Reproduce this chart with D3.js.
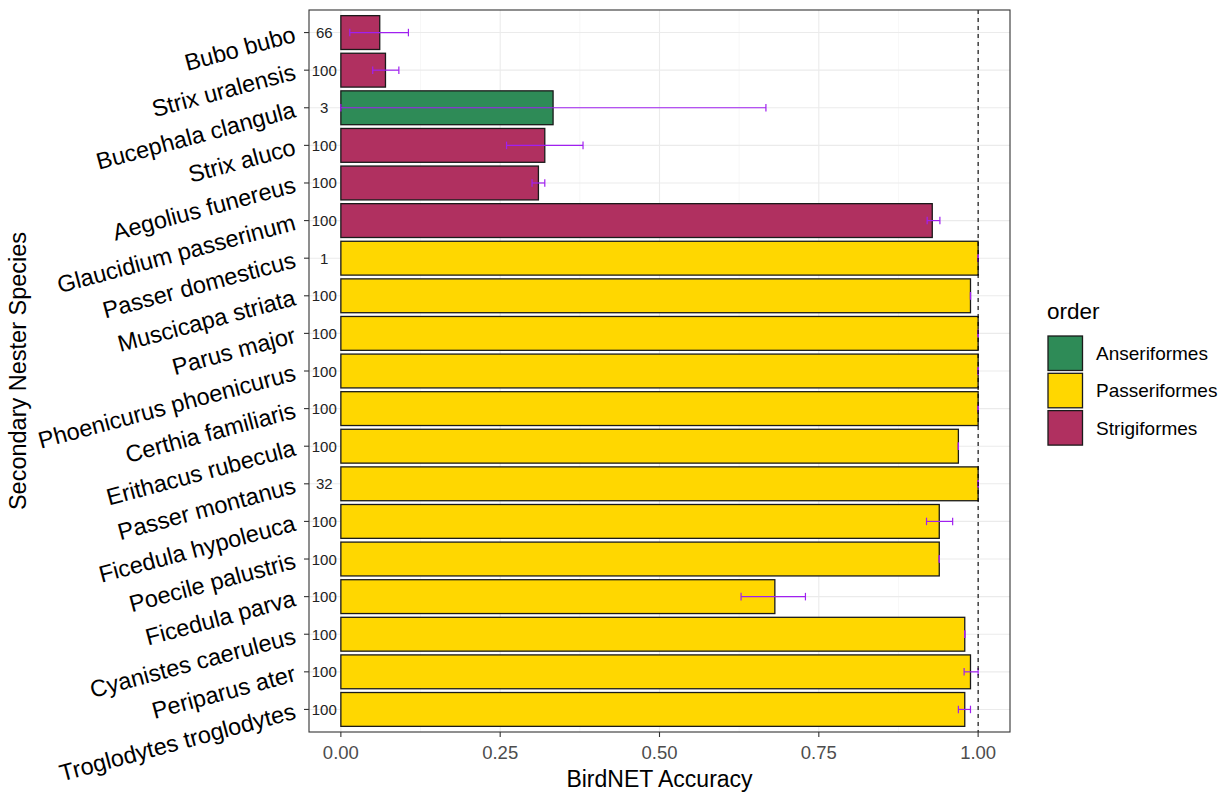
<!DOCTYPE html>
<html>
<head>
<meta charset="utf-8">
<script src="https://cdn.jsdelivr.net/npm/d3@7"></script>
<style>
  html, body { margin: 0; padding: 0; background: #fff; }
  svg { display: block; font-family: "Liberation Sans", Arial, sans-serif; }
</style>
</head>
<body>
<svg id="chart" width="1231" height="795"></svg>
<script>
// Species, top to bottom
const species = [
  "Bubo bubo", "Strix uralensis", "Bucephala clangula", "Strix aluco",
  "Aegolius funereus", "Glaucidium passerinum", "Passer domesticus",
  "Muscicapa striata", "Parus major", "Phoenicurus phoenicurus",
  "Certhia familiaris", "Erithacus rubecula", "Passer montanus",
  "Ficedula hypoleuca", "Poecile palustris", "Ficedula parva",
  "Cyanistes caeruleus", "Periparus ater", "Troglodytes troglodytes"
];
const orders = [
  "Strigiformes", "Strigiformes", "Anseriformes", "Strigiformes",
  "Strigiformes", "Strigiformes", "Passeriformes",
  "Passeriformes", "Passeriformes", "Passeriformes",
  "Passeriformes", "Passeriformes", "Passeriformes",
  "Passeriformes", "Passeriformes", "Passeriformes",
  "Passeriformes", "Passeriformes", "Passeriformes"
];
// Mean accuracy
const accuracy = [
  0.061, 0.070, 0.333, 0.320,
  0.310, 0.928, 1.000,
  0.988, 1.000, 1.000,
  1.000, 0.969, 1.000,
  0.939, 0.939, 0.681,
  0.979, 0.988, 0.979
];
// Error bar limits
const errLow = [
  0.014, 0.050, 0.000, 0.260,
  0.300, 0.920, 1.000,
  0.988, 1.000, 1.000,
  1.000, 0.969, 1.000,
  0.919, 0.939, 0.628,
  0.979, 0.978, 0.969
];
const errHigh = [
  0.106, 0.091, 0.667, 0.380,
  0.320, 0.940, 1.000,
  0.988, 1.000, 1.000,
  1.000, 0.969, 1.000,
  0.960, 0.939, 0.729,
  0.979, 1.000, 0.988
];
// Number of recordings per species
const counts = [
  66, 100, 3, 100,
  100, 100, 1,
  100, 100, 100,
  100, 100, 32,
  100, 100, 100,
  100, 100, 100
];
const orderNames = ["Anseriformes", "Passeriformes", "Strigiformes"];
const orderColors = ["#2E8B57", "#FFD700", "#B03060"];
const xTicks = [0, 0.25, 0.5, 0.75, 1];
const xMinor = [0.125, 0.375, 0.625, 0.875];

const data = species.map((s, i) => ({
  species: s, order: orders[i], acc: accuracy[i],
  lo: errLow[i], hi: errHigh[i], n: counts[i]
}));

const svg = d3.select("#chart");
const panel = { left: 309, right: 1010, top: 10, bottom: 732 };

const x = d3.scaleLinear().domain([-0.05, 1.05]).range([panel.left, panel.right]);
const y = d3.scaleBand().domain(species)
  .range([panel.top, panel.bottom]).paddingInner(0.1).paddingOuter(0.15);
const step = y.step();
const yc = s => y(s) + y.bandwidth() / 2;
const color = d3.scaleOrdinal().domain(orderNames).range(orderColors);

// grid
const g = svg.append("g");
g.selectAll(".minor").data(xMinor).join("line")
  .attr("x1", d => x(d)).attr("x2", d => x(d))
  .attr("y1", panel.top).attr("y2", panel.bottom)
  .attr("stroke", "#F2F2F2").attr("stroke-width", 0.6);
g.selectAll(".major").data(xTicks).join("line")
  .attr("x1", d => x(d)).attr("x2", d => x(d))
  .attr("y1", panel.top).attr("y2", panel.bottom)
  .attr("stroke", "#EBEBEB").attr("stroke-width", 1.1);
g.selectAll(".hgrid").data(species).join("line")
  .attr("x1", panel.left).attr("x2", panel.right)
  .attr("y1", d => yc(d)).attr("y2", d => yc(d))
  .attr("stroke", "#EBEBEB").attr("stroke-width", 1.1);

// bars
svg.append("g").selectAll("rect").data(data).join("rect")
  .attr("x", x(0))
  .attr("y", d => y(d.species))
  .attr("width", d => x(d.acc) - x(0))
  .attr("height", y.bandwidth())
  .attr("fill", d => color(d.order))
  .attr("stroke", "#1a1a1a").attr("stroke-width", 1.3);

// error bars
const capH = step * 0.2;
const eb = svg.append("g").attr("stroke", "#A020F0").attr("stroke-width", 1.2);
data.forEach(d => {
  const cy = yc(d.species);
  eb.append("line").attr("x1", x(d.lo)).attr("x2", x(d.hi)).attr("y1", cy).attr("y2", cy);
  eb.append("line").attr("x1", x(d.lo)).attr("x2", x(d.lo)).attr("y1", cy - capH / 2).attr("y2", cy + capH / 2);
  eb.append("line").attr("x1", x(d.hi)).attr("x2", x(d.hi)).attr("y1", cy - capH / 2).attr("y2", cy + capH / 2);
});

// reference line at perfect accuracy
svg.append("line")
  .attr("x1", x(1)).attr("x2", x(1))
  .attr("y1", panel.top).attr("y2", panel.bottom)
  .attr("stroke", "#000").attr("stroke-width", 1.1)
  .attr("stroke-dasharray", "4,4");

// sample counts
svg.append("g").selectAll("text").data(data).join("text")
  .attr("x", x(-0.026)).attr("y", d => yc(d.species))
  .attr("text-anchor", "middle").attr("dominant-baseline", "central")
  .attr("font-size", 15).attr("fill", "#222")
  .text(d => d.n);

// panel border
svg.append("rect")
  .attr("x", panel.left).attr("y", panel.top)
  .attr("width", panel.right - panel.left).attr("height", panel.bottom - panel.top)
  .attr("fill", "none").attr("stroke", "#333").attr("stroke-width", 1.1);

// x axis
const xa = svg.append("g");
xa.selectAll("line").data(xTicks).join("line")
  .attr("x1", d => x(d)).attr("x2", d => x(d))
  .attr("y1", panel.bottom).attr("y2", panel.bottom + 5)
  .attr("stroke", "#333").attr("stroke-width", 1.1);
xa.selectAll("text").data(xTicks).join("text")
  .attr("x", d => x(d)).attr("y", 759)
  .attr("text-anchor", "middle").attr("font-size", 18.5).attr("fill", "#4D4D4D")
  .text(d => d3.format(".2f")(d));
svg.append("text")
  .attr("x", (panel.left + panel.right) / 2).attr("y", 787)
  .attr("text-anchor", "middle").attr("font-size", 23).attr("fill", "#000")
  .text("BirdNET Accuracy");

// y axis
const ya = svg.append("g");
ya.selectAll("line").data(species).join("line")
  .attr("x1", panel.left - 5).attr("x2", panel.left)
  .attr("y1", d => yc(d)).attr("y2", d => yc(d))
  .attr("stroke", "#333").attr("stroke-width", 1.1);
ya.selectAll("text").data(species).join("text")
  .attr("transform", d => `translate(297,${yc(d) + 9}) rotate(-15)`)
  .attr("text-anchor", "end").attr("font-size", 23.5).attr("fill", "#000")
  .text(d => d);
svg.append("text")
  .attr("transform", `translate(26,${(panel.top + panel.bottom) / 2}) rotate(-90)`)
  .attr("text-anchor", "middle").attr("font-size", 23.5).attr("fill", "#000")
  .text("Secondary Nester Species");

// legend
const lg = svg.append("g");
lg.append("text").attr("x", 1047).attr("y", 319)
  .attr("font-size", 22.5).attr("fill", "#000").text("order");
orderNames.forEach((o, i) => {
  const ty = 336 + i * 37.3;
  lg.append("rect").attr("x", 1048).attr("y", ty).attr("width", 34.5).attr("height", 34.5)
    .attr("fill", orderColors[i]).attr("stroke", "#1a1a1a").attr("stroke-width", 1.3);
  lg.append("text").attr("x", 1096).attr("y", ty + 17.5)
    .attr("dominant-baseline", "central").attr("font-size", 19).attr("fill", "#000")
    .text(o);
});
</script>
</body>
</html>
